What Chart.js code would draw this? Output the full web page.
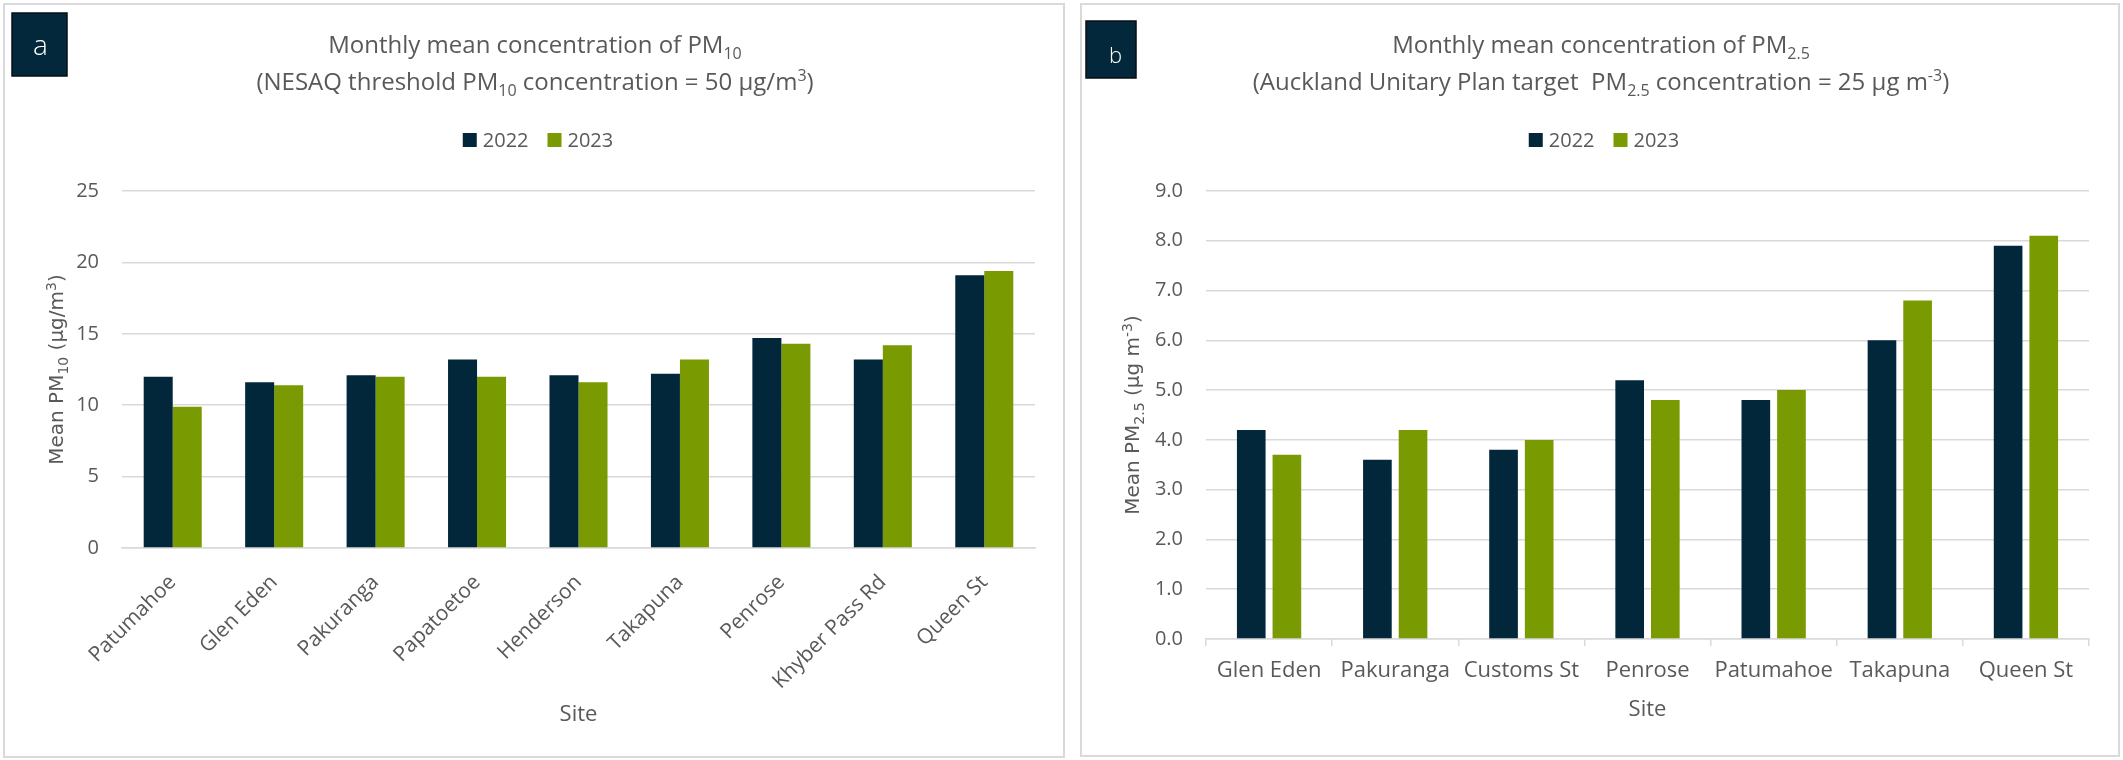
<!DOCTYPE html>
<html>
<head>
<meta charset="utf-8">
<script src="https://cdn.jsdelivr.net/npm/chart.js@4.4.1/dist/chart.umd.min.js"></script>
<style>
  html, body { margin: 0; padding: 0; background: #fff; }
  body { width: 2123px; height: 760px; position: relative; overflow: hidden; }
  .panel { position: absolute; box-sizing: border-box; border: 2px solid #d9d9d9; background: #fff; }
  #pa { left: 3px; top: 3px; width: 1062px; height: 755px; }
  #pb { left: 1080px; top: 3px; width: 1040px; height: 754px; }
  canvas { display: block; }
</style>
</head>
<body>
<div class="panel" id="pa"><canvas id="ca" width="1058" height="751"></canvas></div>
<div class="panel" id="pb"><canvas id="cb" width="1036" height="750"></canvas></div>
<script>
// ---- data ----
const seriesLabels = ['2022', '2023'];

const pm10Sites = ['Patumahoe', 'Glen Eden', 'Pakuranga', 'Papatoetoe', 'Henderson', 'Takapuna', 'Penrose', 'Khyber Pass Rd', 'Queen St'];
const pm10_2022 = [12.0, 11.6, 12.1, 13.2, 12.1, 12.2, 14.7, 13.2, 19.1];
const pm10_2023 = [9.9, 11.4, 12.0, 12.0, 11.6, 13.2, 14.3, 14.2, 19.4];
const pm10Ticks = { min: 0, max: 25, step: 5 };

const pm25Sites = ['Glen Eden', 'Pakuranga', 'Customs St', 'Penrose', 'Patumahoe', 'Takapuna', 'Queen St'];
const pm25_2022 = [4.2, 3.6, 3.8, 5.2, 4.8, 6.0, 7.9];
const pm25_2023 = [3.7, 4.2, 4.0, 4.8, 5.0, 6.8, 8.1];
const pm25Ticks = { min: 0, max: 9, step: 1 };

// ---- styling ----
const DARK = '#02273a';
const GREEN = '#799a01';
const TEXT = '#595959';
const GRID = '#d9d9d9';
const FONT = '"Open Sans", "Noto Sans", sans-serif';
const YFONT = '"DejaVu Sans", Verdana, sans-serif';

// text runs with sub/superscripts: [[text, kind]], kind '' | 'sub' | 'sup'
function runFont(kind, size, family) {
  return (kind ? Math.round(size * 0.68) : size) + 'px ' + family;
}
function richWidth(ctx, parts, size, family) {
  let w = 0;
  parts.forEach(([t, k]) => { ctx.font = runFont(k, size, family); w += ctx.measureText(t).width; });
  return w;
}
function drawRich(ctx, parts, x, y, size, family, align) {
  const total = richWidth(ctx, parts, size, family);
  let cx = align === 'center' ? x - total / 2 : x;
  ctx.textAlign = 'left';
  ctx.textBaseline = 'alphabetic';
  parts.forEach(([t, k]) => {
    ctx.font = runFont(k, size, family);
    const dy = k === 'sub' ? size * 0.24 : (k === 'sup' ? -size * 0.36 : 0);
    ctx.fillText(t, cx, y + dy);
    cx += ctx.measureText(t).width;
  });
}

// titles, legend, rotated y-axis caption and panel badge
const decor = {
  id: 'decor',
  afterDraw(chart, args, o) {
    const ctx = chart.ctx;
    const ca = chart.chartArea;
    const W = chart.width;
    ctx.save();

    // two-line title
    ctx.fillStyle = TEXT;
    o.title.forEach((parts, i) => drawRich(ctx, parts, W / 2 + o.titleDx, o.titleY[i], o.titleSize, FONT, 'center'));

    // legend built from the datasets
    const box = 14, gapIn = 6, gapOut = 19;
    ctx.font = o.legendSize + 'px ' + FONT;
    const items = chart.data.datasets.map(ds => ({ ds, w: ctx.measureText(ds.label).width }));
    const total = items.reduce((s, it) => s + box + gapIn + it.w, 0) + gapOut * (items.length - 1);
    let lx = W / 2 + o.legendDx - total / 2;
    items.forEach(it => {
      ctx.fillStyle = it.ds.backgroundColor;
      ctx.fillRect(lx, o.legendY - box / 2, box, box);
      ctx.fillStyle = TEXT;
      ctx.textAlign = 'left';
      ctx.textBaseline = 'middle';
      ctx.font = o.legendSize + 'px ' + FONT;
      ctx.fillText(it.ds.label, lx + box + gapIn, o.legendY + 1);
      lx += box + gapIn + it.w + gapOut;
    });

    // y-axis caption
    ctx.save();
    ctx.translate(o.yTitleX, (ca.top + ca.bottom) / 2);
    ctx.rotate(-Math.PI / 2);
    ctx.fillStyle = TEXT;
    drawRich(ctx, o.yTitle, 0, 0, o.yTitleSize, YFONT, 'center');
    ctx.restore();

    // badge
    const b = o.badge;
    ctx.fillStyle = '#03273b';
    ctx.fillRect(b.x, b.y, b.w, b.h);
    ctx.strokeStyle = '#0b0f12';
    ctx.lineWidth = 1.5;
    ctx.strokeRect(b.x, b.y, b.w, b.h);
    ctx.fillStyle = '#ffffff';
    ctx.font = '300 ' + b.size + 'px ' + FONT;
    ctx.textAlign = 'center';
    ctx.textBaseline = 'alphabetic';
    ctx.fillText(b.text, b.tx, b.ty);

    ctx.restore();
  }
};

function makeChart(id, labels, a, b, cfg) {
  return new Chart(document.getElementById(id), {
    type: 'bar',
    data: {
      labels: labels,
      datasets: [
        { label: seriesLabels[0], data: a, backgroundColor: DARK, borderWidth: 0,
          categoryPercentage: cfg.catPct, barPercentage: cfg.barPct },
        { label: seriesLabels[1], data: b, backgroundColor: GREEN, borderWidth: 0,
          categoryPercentage: cfg.catPct, barPercentage: cfg.barPct }
      ]
    },
    options: {
      responsive: false,
      maintainAspectRatio: false,
      animation: false,
      layout: { padding: { top: 186, left: 0, right: cfg.padRight, bottom: 0 } },
      plugins: {
        legend: { display: false },
        tooltip: { enabled: false },
        decor: cfg.decor
      },
      scales: {
        x: {
          grid: cfg.xGrid,
          border: { display: true, color: GRID, width: 1.5 },
          ticks: {
            color: TEXT, font: { family: FONT, size: cfg.xFont },
            minRotation: cfg.rot, maxRotation: cfg.rot, autoSkip: false, padding: cfg.xPad
          },
          title: {
            display: true, text: 'Site', color: TEXT,
            font: { family: FONT, size: 22 }, padding: { top: 0, bottom: cfg.siteBottom }
          },
          afterFit(s) { s.height = cfg.xHeight; }
        },
        y: {
          min: cfg.ticks.min, max: cfg.ticks.max,
          grid: { color: GRID, lineWidth: 1.5, drawTicks: false },
          border: { display: false },
          ticks: {
            stepSize: cfg.ticks.step, color: TEXT, padding: 23,
            font: { family: FONT, size: 20 },
            callback: cfg.fmt
          },
          afterFit(s) { s.width = cfg.yWidth; }
        }
      }
    },
    plugins: [decor]
  });
}

makeChart('ca', pm10Sites, pm10_2022, pm10_2023, {
  catPct: 0.572, barPct: 1.0, padRight: 28, rot: 45, xFont: 21, xPad: 14,
  xGrid: { display: false }, xHeight: 208, siteBottom: 28, yWidth: 117,
  ticks: pm10Ticks, fmt: v => String(v),
  decor: {
    title: [
      [['Monthly mean concentration of PM', ''], ['10', 'sub']],
      [['(NESAQ threshold PM', ''], ['10', 'sub'], [' concentration = 50 µg/m', ''], ['3', 'sup'], [')', '']]
    ],
    titleY: [48, 85], titleSize: 24, titleDx: 1,
    legendY: 135, legendSize: 20, legendDx: 4,
    yTitle: [['Mean PM', ''], ['10', 'sub'], [' (µg/m', ''], ['3', 'sup'], [')', '']],
    yTitleX: 58, yTitleSize: 20,
    badge: { x: 7, y: 8, w: 55, h: 63, text: 'a', size: 28, tx: 35.5, ty: 50 }
  }
});

makeChart('cb', pm25Sites, pm25_2022, pm25_2023, {
  catPct: 0.565, barPct: 0.804, padRight: 29, rot: 0, xFont: 22, xPad: 12,
  xGrid: { display: true, drawOnChartArea: false, drawTicks: true, tickLength: 7, color: GRID, lineWidth: 1.5 },
  xHeight: 116, siteBottom: 32, yWidth: 124,
  ticks: pm25Ticks, fmt: v => v.toFixed(1),
  decor: {
    title: [
      [['Monthly mean concentration of PM', ''], ['2.5', 'sub']],
      [['(Auckland Unitary Plan target  PM', ''], ['2.5', 'sub'], [' concentration = 25 µg m', ''], ['-3', 'sup'], [')', '']]
    ],
    titleY: [48, 85], titleSize: 24, titleDx: 1,
    legendY: 135, legendSize: 20, legendDx: 4,
    yTitle: [['Mean PM', ''], ['2.5', 'sub'], [' (µg m', ''], ['-3', 'sup'], [')', '']],
    yTitleX: 57, yTitleSize: 20,
    badge: { x: 4, y: 16, w: 50, h: 57, text: 'b', size: 22, tx: 33.5, ty: 58 }
  }
});
</script>
</body>
</html>
